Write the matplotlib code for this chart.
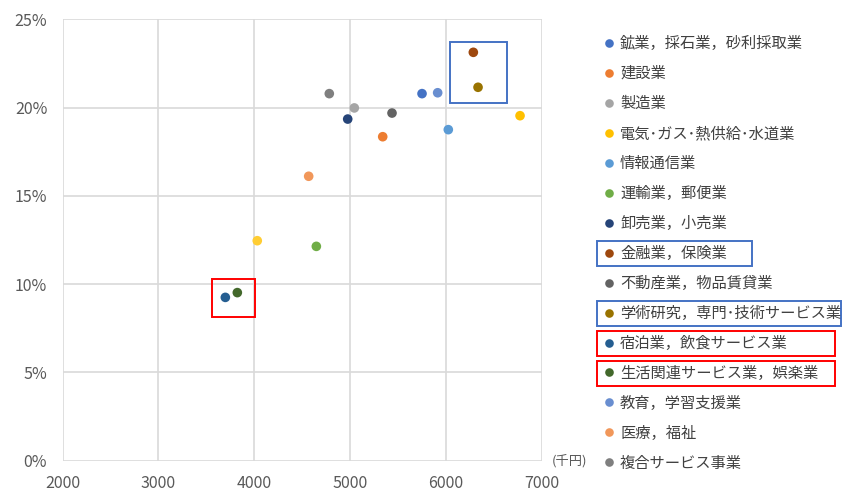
import matplotlib
matplotlib.use("Agg")
import matplotlib.pyplot as plt
from matplotlib.lines import Line2D
from matplotlib.patches import Rectangle
from matplotlib.ticker import FuncFormatter, MultipleLocator

plt.rcParams['font.family'] = ['Noto Sans CJK JP', 'DejaVu Sans']

# 産業別: 平均給与 (千円) と 割合 (%)
industries = ['鉱業，採石業，砂利採取業', '建設業', '製造業', '電気･ガス･熱供給･水道業',
              '情報通信業', '運輸業，郵便業', '卸売業，小売業', '金融業，保険業',
              '不動産業，物品賃貸業', '学術研究，専門･技術サービス業', '宿泊業，飲食サービス業',
              '生活関連サービス業，娯楽業', '教育，学習支援業', '医療，福祉', '複合サービス事業',
              'サービス業（他に分類されないもの）']
salary = [5749, 5339, 5043, 6771, 6023, 4647, 4974, 6284,
          5436, 6333, 3698, 3823, 5912, 4567, 4782, 4031]
rate = [20.79, 18.35, 19.98, 19.54, 18.75, 12.14, 19.35, 23.13,
        19.69, 21.15, 9.25, 9.52, 20.84, 16.11, 20.79, 12.46]
colors = ['#4472C4', '#ED7D31', '#A5A5A5', '#FFC000', '#5B9BD5', '#70AD47', '#264478', '#9E480E',
          '#636363', '#997300', '#255E91', '#43682B', '#698ED0', '#F1975A', '#7F7F7F', '#FFCD33']
n_legend = 15

fig = plt.figure(figsize=(8.42, 4.92), dpi=100)
ax = fig.add_axes([62.5 / 842, 1 - 460.7 / 492, (542 - 62.5) / 842, (460.7 - 19.3) / 492])

for i, (x, y, c) in enumerate(zip(salary, rate, colors)):
    ax.scatter(x, y, s=48, color=c, edgecolors='none', zorder=3,
               label=industries[i] if i < n_legend else '_nolegend_')

ax.set_xlim(2000, 7000)
ax.set_ylim(0, 25)
ax.xaxis.set_major_locator(MultipleLocator(1000))
ax.yaxis.set_major_locator(MultipleLocator(5))
ax.yaxis.set_major_formatter(FuncFormatter(lambda v, p: f'{v:.0f}%'))
ax.grid(True, color='#D9D9D9', lw=1.2)
ax.set_axisbelow(True)
for s in ax.spines.values():
    s.set_visible(False)
ax.tick_params(length=0, labelsize=11.5, labelcolor='#595959')
ax.tick_params(axis='x', pad=10)
ax.tick_params(axis='y', pad=11)

ax.annotate('(千円)', xy=(1, 0), xycoords='axes fraction', xytext=(7, 0),
            textcoords='offset points', ha='left', va='center', fontsize=9.5, color='#595959')

# 注目グループの枠
ax.add_patch(Rectangle((3556, 8.16), 451, 2.13, fill=False, ec='#FF0000', lw=1.4, zorder=4))
ax.add_patch(Rectangle((6041, 20.28), 597, 3.42, fill=False, ec='#4472C4', lw=1.4, zorder=4))

handles = [Line2D([], [], ls='none', marker='o', ms=6.2, mec='none', mfc=c) for c in colors[:n_legend]]
leg = fig.legend(handles, industries[:n_legend], loc='upper left',
                 bbox_to_anchor=(604 / 842, 1 - 35 / 492), frameon=False, fontsize=11,
                 handlelength=0.7, handletextpad=0.35, labelspacing=0.85, borderpad=0,
                 borderaxespad=0, labelcolor='#404040')

# 凡例の強調枠 (行番号, 色, 右端px)
highlights = [(7, '#4472C4', 752), (9, '#4472C4', 841), (10, '#FF0000', 835), (11, '#FF0000', 835)]
fig.canvas.draw()
for row, c, right in highlights:
    bb = leg.get_texts()[row].get_window_extent()
    yc = (bb.y0 + bb.y1) / 2
    fig.add_artist(Rectangle((597.3 / 842, (yc - 12.3) / 492), (right - 597.3) / 842, 24.6 / 492,
                             transform=fig.transFigure, fill=False, ec=c, lw=1.4))

fig.savefig('out.png', dpi=100)
